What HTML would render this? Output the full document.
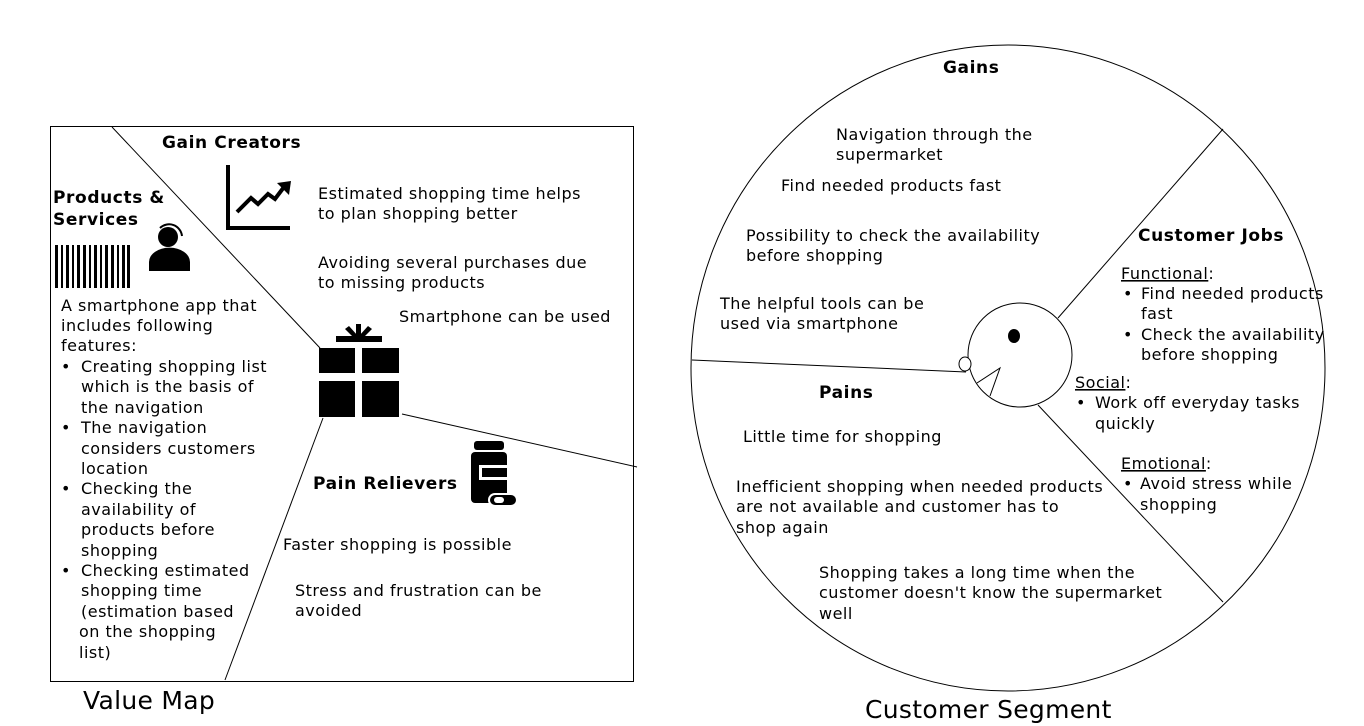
<!DOCTYPE html>
<html><head><meta charset="utf-8"><style>
html,body{margin:0;padding:0;background:#fff;}
svg{display:block;}
text{font-family:"DejaVu Sans","Liberation Sans",sans-serif;font-size:16px;letter-spacing:0.5px;fill:#000;}
.b{font-weight:bold;font-size:17px;letter-spacing:0.6px;}
.big{font-size:25px;letter-spacing:0.3px;}
</style></head><body>
<svg width="1364" height="726" viewBox="0 0 1364 726" xmlns="http://www.w3.org/2000/svg">
<rect x="50.5" y="126.5" width="583" height="555" fill="none" stroke="#000" stroke-width="1"/>
<line x1="112" y1="127" x2="320" y2="348" stroke="#000"/>
<line x1="323" y1="418" x2="225" y2="680" stroke="#000"/>
<line x1="402" y1="414" x2="637" y2="467" stroke="#000"/>

<path d="M228 165 V228 H290" fill="none" stroke="#000" stroke-width="4"/>
<path d="M237 212 L251 198 L258 204 L268 194 L275 199 L284 187" fill="none" stroke="#000" stroke-width="4"/>
<polygon points="277,183 291,181 289,195" fill="#000"/>
<circle cx="168" cy="237" r="10" fill="#000"/>
<path d="M160 228 A13 13 0 0 1 182 236" fill="none" stroke="#000" stroke-width="2"/>
<path d="M149 271 V262 A20 14 0 0 1 190 262 V271 Z" fill="#000"/>
<g fill="#000">
<rect x="55" y="245" width="3" height="43"/><rect x="61" y="245" width="2" height="43"/><rect x="66" y="245" width="3" height="43"/><rect x="72" y="245" width="2" height="43"/><rect x="77" y="245" width="3" height="43"/><rect x="83" y="245" width="3" height="43"/><rect x="89" y="245" width="2" height="43"/><rect x="94" y="245" width="3" height="43"/><rect x="100" y="245" width="2" height="43"/><rect x="105" y="245" width="3" height="43"/><rect x="111" y="245" width="3" height="43"/><rect x="117" y="245" width="2" height="43"/><rect x="122" y="245" width="3" height="43"/><rect x="127" y="245" width="3" height="43"/>
</g>
<g fill="#000">
<rect x="336" y="336" width="46" height="6"/>
<rect x="356" y="324" width="5" height="14"/>
<polygon points="345,329 349,326 358,336 354,338"/>
<polygon points="372,329 368,326 359,336 363,338"/>
<rect x="319" y="348" width="36" height="25"/><rect x="362" y="348" width="37" height="25"/>
<rect x="319" y="381" width="36" height="36"/><rect x="362" y="381" width="37" height="36"/>
</g>
<g>
<rect x="474" y="441" width="30" height="9" rx="3" fill="#000"/>
<rect x="471" y="452" width="36" height="51" rx="4" fill="#000"/>
<rect x="479" y="465" width="28" height="15" fill="#fff"/>
<rect x="482" y="468" width="25" height="9" fill="#000"/>
<rect x="488" y="493" width="30" height="14" rx="7" fill="#fff"/>
<rect x="490" y="495" width="26" height="10" rx="5" fill="#000"/>
<rect x="494" y="497" width="10" height="6" rx="3" fill="#fff"/>
</g>

<text class="b" x="162" y="148">Gain Creators</text>
<text class="b" x="53" y="203">Products &amp;</text>
<text class="b" x="53" y="225">Services</text>
<text class="b" x="313" y="489">Pain Relievers</text>

<text x="318" y="199">Estimated shopping time helps</text>
<text x="318" y="219">to plan shopping better</text>
<text x="318" y="268">Avoiding several purchases due</text>
<text x="318" y="288">to missing products</text>
<text x="399" y="322">Smartphone can be used</text>
<text x="283" y="550">Faster shopping is possible</text>
<text x="295" y="596">Stress and frustration can be</text>
<text x="295" y="616">avoided</text>

<g>
<text x="61" y="311">A smartphone app that</text>
<text x="61" y="331">includes following</text>
<text x="61" y="351">features:</text>
<text x="61" y="372">•</text><text x="81" y="372">Creating shopping list</text>
<text x="81" y="392">which is the basis of</text>
<text x="81" y="413">the navigation</text>
<text x="61" y="433">•</text><text x="81" y="433">The navigation</text>
<text x="81" y="454">considers customers</text>
<text x="81" y="474">location</text>
<text x="61" y="494">•</text><text x="81" y="494">Checking the</text>
<text x="81" y="515">availability of</text>
<text x="81" y="535">products before</text>
<text x="81" y="556">shopping</text>
<text x="61" y="576">•</text><text x="81" y="576">Checking estimated</text>
<text x="81" y="596">shopping time</text>
<text x="81" y="617">(estimation based</text>
<text x="79" y="637">on the shopping</text>
<text x="79" y="658">list)</text>
</g>
<text class="big" x="83" y="709">Value Map</text>

<ellipse cx="1008" cy="368" rx="317" ry="323" fill="none" stroke="#000"/>
<line x1="692" y1="360" x2="966" y2="372" stroke="#000"/>
<line x1="1058" y1="318" x2="1223" y2="129" stroke="#000"/>
<line x1="1038" y1="405" x2="1223" y2="602" stroke="#000"/>
<circle cx="1020" cy="355" r="52" fill="#fff" stroke="#000"/>
<ellipse cx="1014" cy="336" rx="6" ry="7" fill="#000"/>
<ellipse cx="965" cy="364" rx="6" ry="7" fill="#fff" stroke="#000"/>
<polyline points="977,383 1000,368 990,396" fill="none" stroke="#000"/>

<text class="b" x="943" y="73">Gains</text>
<text x="836" y="140">Navigation through the</text>
<text x="836" y="160">supermarket</text>
<text x="781" y="191">Find needed products fast</text>
<text x="746" y="241">Possibility to check the availability</text>
<text x="746" y="261">before shopping</text>
<text x="720" y="309">The helpful tools can be</text>
<text x="720" y="329">used via smartphone</text>

<text class="b" x="1138" y="241">Customer Jobs</text>
<text x="1121" y="279"><tspan text-decoration="underline">Functional</tspan>:</text>
<text x="1123" y="299">•</text><text x="1141" y="299">Find needed products</text>
<text x="1141" y="319">fast</text>
<text x="1123" y="340">•</text><text x="1141" y="340">Check the availability</text>
<text x="1141" y="360">before shopping</text>
<text x="1075" y="388"><tspan text-decoration="underline">Social</tspan>:</text>
<text x="1076" y="408">•</text><text x="1095" y="408">Work off everyday tasks</text>
<text x="1095" y="429">quickly</text>
<text x="1121" y="469"><tspan text-decoration="underline">Emotional</tspan>:</text>
<text x="1123" y="489">•</text><text x="1140" y="489">Avoid stress while</text>
<text x="1140" y="510">shopping</text>

<text class="b" x="819" y="398">Pains</text>
<text x="743" y="442">Little time for shopping</text>
<text x="736" y="492">Inefficient shopping when needed products</text>
<text x="736" y="512">are not available and customer has to</text>
<text x="736" y="533">shop again</text>
<text x="819" y="578">Shopping takes a long time when the</text>
<text x="819" y="598">customer doesn't know the supermarket</text>
<text x="819" y="619">well</text>

<text class="big" x="865" y="718">Customer Segment</text>
</svg>
</body></html>
